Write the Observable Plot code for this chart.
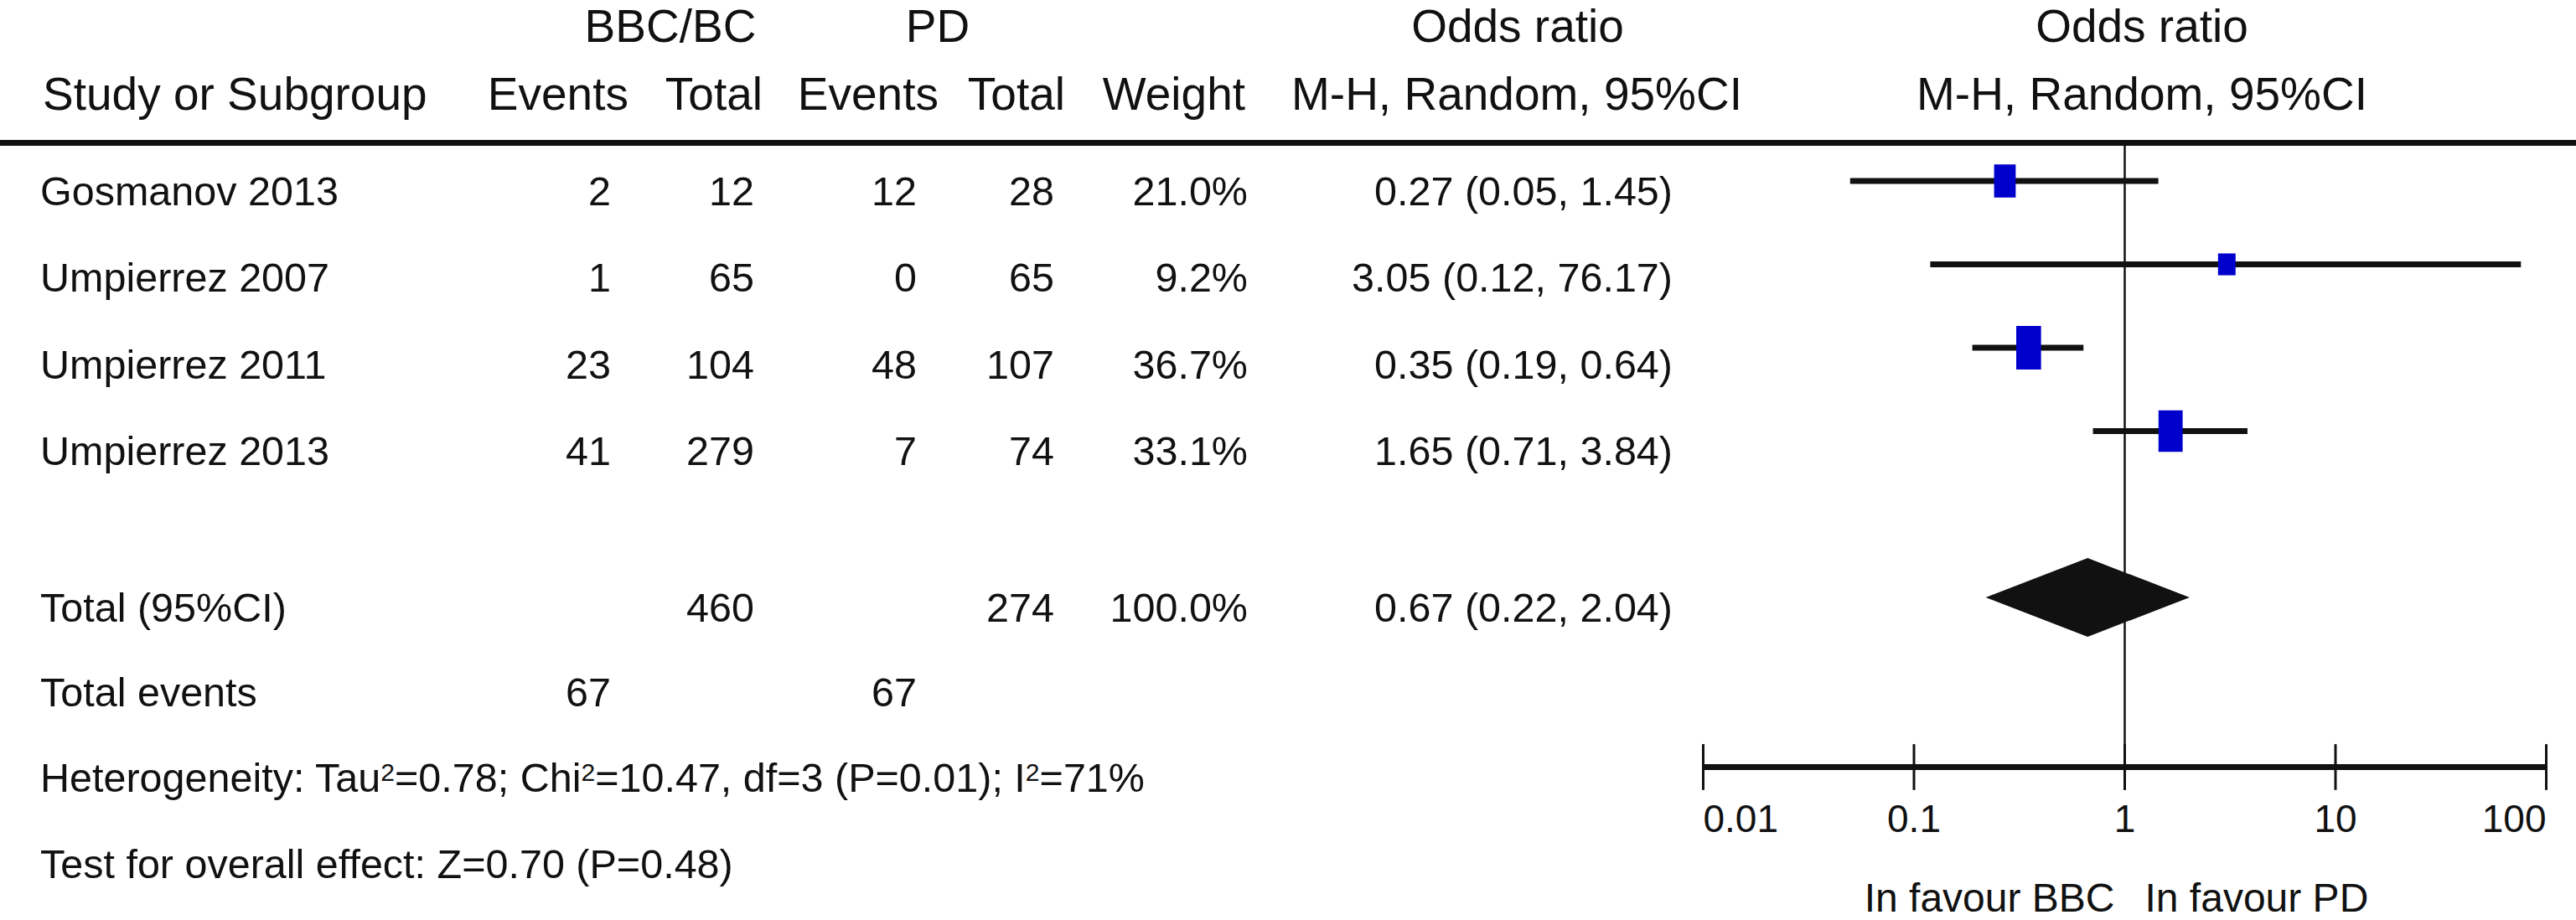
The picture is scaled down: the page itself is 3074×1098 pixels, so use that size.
<!DOCTYPE html>
<html>
<head>
<meta charset="utf-8">
<script src="https://cdn.jsdelivr.net/npm/d3@7"></script>
<script src="https://cdn.jsdelivr.net/npm/@observablehq/plot@0.6"></script>
<style>
  body { margin: 0; background: #fff; }
  #fig { position: relative; width: 3074px; height: 1098px; overflow: hidden; background: #fff;
         font-family: "Liberation Sans", Arial, Helvetica, sans-serif; color: #111; }
  #fig svg { position: absolute; left: 0; top: 0; }
  .t { position: absolute; line-height: 1; white-space: nowrap; }
  .t sup { font-size: 0.62em; line-height: 0; vertical-align: 13px; }
  .rule { position: absolute; left: 0; width: 3074px; top: 167px; height: 7px; background: #111; }
</style>
</head>
<body>
<div id="fig"><div class="rule"></div></div>
<script>
// ---------------- data ----------------
const studies   = ["Gosmanov 2013", "Umpierrez 2007", "Umpierrez 2011", "Umpierrez 2013"];
const bbcEvents = [2, 1, 23, 41];
const bbcTotal  = [12, 65, 104, 279];
const pdEvents  = [12, 0, 48, 7];
const pdTotal   = [28, 65, 107, 74];
const weights   = [21.0, 9.2, 36.7, 33.1];
const orEst     = [0.27, 3.05, 0.35, 1.65];
const orLo      = [0.05, 0.12, 0.19, 0.71];
const orHi      = [1.45, 76.17, 0.64, 3.84];

const totalLabel      = "Total (95%CI)";
const totalBbcN       = 460;
const totalPdN        = 274;
const totalWeight     = 100.0;
const pooledEst       = 0.67;
const pooledLo        = 0.22;
const pooledHi        = 2.04;
const totalEventsBbc  = 67;
const totalEventsPd   = 67;
const heterogeneity   = "Heterogeneity: Tau<sup>2</sup>=0.78; Chi<sup>2</sup>=10.47, df=3 (P=0.01); I<sup>2</sup>=71%";
const overallEffect   = "Test for overall effect: Z=0.70 (P=0.48)";

const axisTicks    = [0.01, 0.1, 1, 10, 100];
const tickLabels   = ["0.01", "0.1", "1", "10", "100"];
const favourLabels = ["In favour BBC", "In favour PD"];

// ---------------- layout ----------------
const W = 3074, H = 1098;
const FONT = "Liberation Sans, Arial, Helvetica, sans-serif";
const INK = "#111";
const BLUE = "#0000CC";

const rows = studies.map((s, i) => ({study: s, row: i + 1, or: orEst[i], lo: orLo[i], hi: orHi[i], w: weights[i]}));
const pooledRow = 6, axisRow = 8.03, headerRuleRow = 0.548;
const dh = 0.472; // diamond half-height in row units
const diamond = [
  {x: pooledLo,  y1: pooledRow,      y2: pooledRow},
  {x: pooledEst, y1: pooledRow - dh, y2: pooledRow + dh},
  {x: pooledHi,  y1: pooledRow,      y2: pooledRow}
];

// rectangle symbol: taller than wide, grows with weight
const rectSymbol = {
  draw(ctx, size) {
    const r = Math.sqrt(size / Math.PI);
    const hh = r, hw = 2.9 * Math.sqrt(r);
    ctx.moveTo(-hw, -hh); ctx.lineTo(hw, -hh); ctx.lineTo(hw, hh); ctx.lineTo(-hw, hh); ctx.closePath();
  }
};

const tickText = (idx, anchor) => Plot.text(idx, {
  x: i => axisTicks[i], y: 8.814, text: i => tickLabels[i],
  textAnchor: anchor, lineAnchor: "bottom", fontSize: 46, fontFamily: FONT, fill: INK
});

const chart = Plot.plot({
  width: W, height: H,
  marginLeft: 2032, marginRight: 36, marginTop: 0, marginBottom: 0,
  x: {type: "log", domain: [0.01, 100], axis: null},
  y: {domain: [-1.1658, 9.8693], range: [0, H], axis: null},
  r: {type: "sqrt", domain: [0, 100], range: [0, 43]},
  style: {background: "transparent", overflow: "visible"},
  marks: [
    // null line
    Plot.ruleX([1], {y1: headerRuleRow, y2: 8.31, stroke: INK, strokeWidth: 2.5}),
    // confidence intervals
    Plot.ruleY(rows, {y: "row", x1: "lo", x2: "hi", stroke: INK, strokeWidth: 7}),
    // study boxes
    Plot.dot(rows, {x: "or", y: "row", r: "w", symbol: rectSymbol, fill: BLUE}),
    // pooled diamond
    Plot.areaY(diamond, {x: "x", y1: "y1", y2: "y2", fill: INK}),
    // axis line & ticks
    Plot.ruleY([axisRow], {x1: axisTicks[0], x2: axisTicks[axisTicks.length - 1], stroke: INK, strokeWidth: 7}),
    Plot.ruleX(axisTicks, {y1: 7.76, y2: 8.31, stroke: INK, strokeWidth: 3}),
    // tick labels
    tickText([0], "start"),
    tickText([1, 2, 3], "middle"),
    tickText([4], "end"),
    // favour labels
    Plot.text([favourLabels[0]], {x: () => 1, y: 9.759, text: d => d, textAnchor: "end", dx: -12, lineAnchor: "bottom", fontSize: 48, fontFamily: FONT, fill: INK}),
    Plot.text([favourLabels[1]], {x: () => 1, y: 9.759, text: d => d, textAnchor: "start", dx: 24, lineAnchor: "bottom", fontSize: 48, fontFamily: FONT, fill: INK})
  ]
});

const fig = document.getElementById("fig");
fig.insertBefore(chart, fig.firstChild);

// ---------------- table text ----------------
function put(html, x, base, size, align) {
  const el = document.createElement("div");
  el.className = "t";
  el.innerHTML = html;
  el.style.fontSize = size + "px";
  el.style.top = (base - 0.8465 * size) + "px";
  if (align === "left") {
    el.style.left = x + "px";
  } else if (align === "right") {
    el.style.left = (x - 1500) + "px"; el.style.width = "1500px"; el.style.textAlign = "right";
  } else {
    el.style.left = (x - 1000) + "px"; el.style.width = "2000px"; el.style.textAlign = "center";
  }
  fig.appendChild(el);
}

const HF = 55, BF = 48.5;
const COL = {name: 48, bbcEv: 729, bbcTot: 900, pdEv: 1094, pdTot: 1258, weight: 1489, or: 1996};

// headers
const H1 = 51, H2 = 132;
put("BBC/BC", 800, H1, HF, "center");
put("PD", 1119, H1, HF, "center");
put("Odds ratio", 1811, H1, HF, "center");
put("Odds ratio", 2556, H1, HF, "center");
put("Study or Subgroup", 51, H2, HF, "left");
put("Events", 750, H2, HF, "right");
put("Total", 910, H2, HF, "right");
put("Events", 1120, H2, HF, "right");
put("Total", 1271, H2, HF, "right");
put("Weight", 1486, H2, HF, "right");
put("M-H, Random, 95%CI", 1810, H2, HF, "center");
put("M-H, Random, 95%CI", 2556, H2, HF, "center");

// study rows
const studyBase = [245, 348, 452, 555];
const fmt = v => v.toFixed(2);
studies.forEach((s, i) => {
  const b = studyBase[i];
  put(s, COL.name, b, BF, "left");
  put(String(bbcEvents[i]), COL.bbcEv, b, BF, "right");
  put(String(bbcTotal[i]), COL.bbcTot, b, BF, "right");
  put(String(pdEvents[i]), COL.pdEv, b, BF, "right");
  put(String(pdTotal[i]), COL.pdTot, b, BF, "right");
  put(weights[i].toFixed(1) + "%", COL.weight, b, BF, "right");
  put(`${fmt(orEst[i])} (${fmt(orLo[i])}, ${fmt(orHi[i])})`, COL.or, b, BF, "right");
});

// totals
put(totalLabel, COL.name, 742, BF, "left");
put(String(totalBbcN), COL.bbcTot, 742, BF, "right");
put(String(totalPdN), COL.pdTot, 742, BF, "right");
put(totalWeight.toFixed(1) + "%", COL.weight, 742, BF, "right");
put(`${fmt(pooledEst)} (${fmt(pooledLo)}, ${fmt(pooledHi)})`, COL.or, 742, BF, "right");

put("Total events", COL.name, 843, BF, "left");
put(String(totalEventsBbc), COL.bbcEv, 843, BF, "right");
put(String(totalEventsPd), COL.pdEv, 843, BF, "right");

put(heterogeneity, COL.name, 945, BF, "left");
put(overallEffect, COL.name, 1048, BF, "left");
</script>
</body>
</html>
